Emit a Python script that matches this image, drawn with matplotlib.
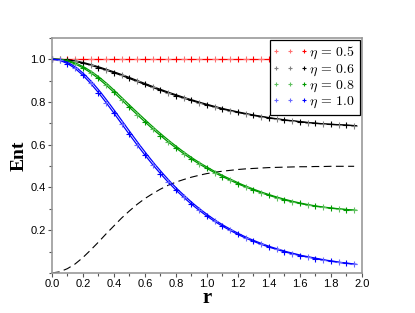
import numpy as np
import matplotlib
matplotlib.use('Agg')
import matplotlib.pyplot as plt
from matplotlib.lines import Line2D
from matplotlib.legend_handler import HandlerBase
from matplotlib.ticker import MultipleLocator
from matplotlib.transforms import offset_copy

r = [0.00, 0.05, 0.10, 0.15, 0.20, 0.25, 0.30, 0.35, 0.40, 0.45,
     0.50, 0.55, 0.60, 0.65, 0.70, 0.75, 0.80, 0.85, 0.90, 0.95,
     1.00, 1.05, 1.10, 1.15, 1.20, 1.25, 1.30, 1.35, 1.40, 1.45,
     1.50, 1.55, 1.60, 1.65, 1.70, 1.75, 1.80, 1.85, 1.90, 1.95]

ent_05 = [1.0] * 40

ent_06 = [1.000, 0.999, 0.996, 0.990, 0.982, 0.972, 0.961, 0.949, 0.937, 0.924,
          0.910, 0.896, 0.882, 0.868, 0.855, 0.842, 0.830, 0.818, 0.807, 0.796,
          0.786, 0.776, 0.767, 0.759, 0.751, 0.744, 0.737, 0.731, 0.725, 0.720,
          0.715, 0.711, 0.707, 0.703, 0.700, 0.697, 0.695, 0.693, 0.691, 0.689]

ent_08 = [1.000, 0.998, 0.991, 0.978, 0.960, 0.937, 0.910, 0.879, 0.845, 0.810,
          0.775, 0.741, 0.707, 0.674, 0.643, 0.613, 0.585, 0.558, 0.533, 0.510,
          0.489, 0.469, 0.451, 0.434, 0.417, 0.402, 0.388, 0.375, 0.363, 0.352,
          0.342, 0.333, 0.325, 0.318, 0.312, 0.307, 0.303, 0.299, 0.296, 0.293]

ent_10 = [1.000, 0.995, 0.980, 0.957, 0.925, 0.887, 0.844, 0.797, 0.748, 0.698,
          0.648, 0.599, 0.552, 0.507, 0.465, 0.425, 0.388, 0.354, 0.322, 0.293,
          0.266, 0.241, 0.219, 0.199, 0.180, 0.163, 0.148, 0.134, 0.121, 0.110,
          0.099, 0.090, 0.081, 0.074, 0.067, 0.060, 0.055, 0.049, 0.045, 0.040]

dashed = [0.000, 0.005, 0.020, 0.042, 0.072, 0.107, 0.144, 0.183, 0.220, 0.257,
          0.290, 0.321, 0.348, 0.371, 0.392, 0.410, 0.425, 0.437, 0.448, 0.457,
          0.465, 0.471, 0.476, 0.480, 0.484, 0.487, 0.489, 0.491, 0.493, 0.494,
          0.495, 0.496, 0.497, 0.497, 0.498, 0.498, 0.499, 0.499, 0.499, 0.499]

labels = [r'$\eta\,=\,0.5$', r'$\eta\,=\,0.6$', r'$\eta\,=\,0.8$', r'$\eta\,=\,1.0$']
colors = ['#ff0000', '#000000', '#009a00', '#0000ff']
light = ['#ff7070', '#808080', '#60c060', '#6868ff']

plt.rcParams['mathtext.fontset'] = 'cm'
plt.rcParams['font.family'] = 'Liberation Sans'


class PlusHandler(HandlerBase):
    def __init__(self, dark, pale):
        super().__init__()
        self.dark = dark
        self.pale = pale

    def create_artists(self, legend, orig_handle, xdescent, ydescent, width, height, fontsize, trans):
        y = -ydescent + height / 2
        arts = []
        for f, c in [(0.05, self.pale), (0.5, self.pale), (0.95, self.dark)]:
            ln = Line2D([-xdescent + f * width], [y], marker='+', color=c,
                        markersize=3.5, markeredgewidth=0.8, linestyle='none')
            ln.set_transform(trans)
            arts.append(ln)
        return arts


fig = plt.figure(figsize=(4.15, 3.13), dpi=100)
ax = fig.add_axes([0.125, 0.128, 0.747, 0.751])

rr = np.array(r)
ax.plot(r, dashed, color='black', lw=0.8, dashes=(7, 4))

# second copy of each curve, nudged a couple of pixels to the right
shifted = offset_copy(ax.transData, fig=fig, x=2.5, y=0, units='dots')

series = [ent_05, ent_06, ent_08, ent_10]
handles = []
for i, ys in enumerate(series):
    ys = np.array(ys)
    ax.plot(rr, ys, color=colors[i], lw=0.9)
    if i > 0:
        ax.plot(rr, ys, color=colors[i], lw=0.9, transform=shifted)
    ax.plot(rr[1::2], ys[1::2], '+', color=light[i], ms=4, mew=0.8)
    ax.plot(rr[0::2], ys[0::2], '+', color=colors[i], ms=4, mew=0.8)
    handles.append(Line2D([], [], color=colors[i]))

leg = ax.legend(handles, labels, loc='upper right', bbox_to_anchor=(0.9935, 0.99),
                borderaxespad=0, fontsize=10, handlelength=2.2, handletextpad=0.3,
                labelspacing=0.0, borderpad=0.35, fancybox=False, framealpha=1,
                handler_map={h: PlusHandler(colors[i], light[i]) for i, h in enumerate(handles)})
leg.get_frame().set_edgecolor('black')
leg.get_frame().set_linewidth(0.9)

ax.set_xlim(0, 2.0)
ax.set_ylim(0, 1.1)
ax.xaxis.set_major_locator(MultipleLocator(0.2))
ax.xaxis.set_minor_locator(MultipleLocator(0.1))
ax.set_yticks([0.2, 0.4, 0.6, 0.8, 1.0])
ax.yaxis.set_minor_locator(MultipleLocator(0.1))
ax.tick_params(which='major', direction='out', length=3, width=0.8, color='#555555', labelsize=8, pad=1.5)
ax.tick_params(which='minor', direction='out', length=2, width=0.8, color='#555555')
for s in ax.spines.values():
    s.set_color('#999999')
    s.set_linewidth(1.2)

ax.set_xlabel('r', fontsize=15, fontweight='bold', family='Liberation Serif', labelpad=-1)
ax.set_ylabel('Ent', fontsize=14, fontweight='bold', family='Liberation Serif', labelpad=2)

fig.savefig('out.png', dpi=100)
